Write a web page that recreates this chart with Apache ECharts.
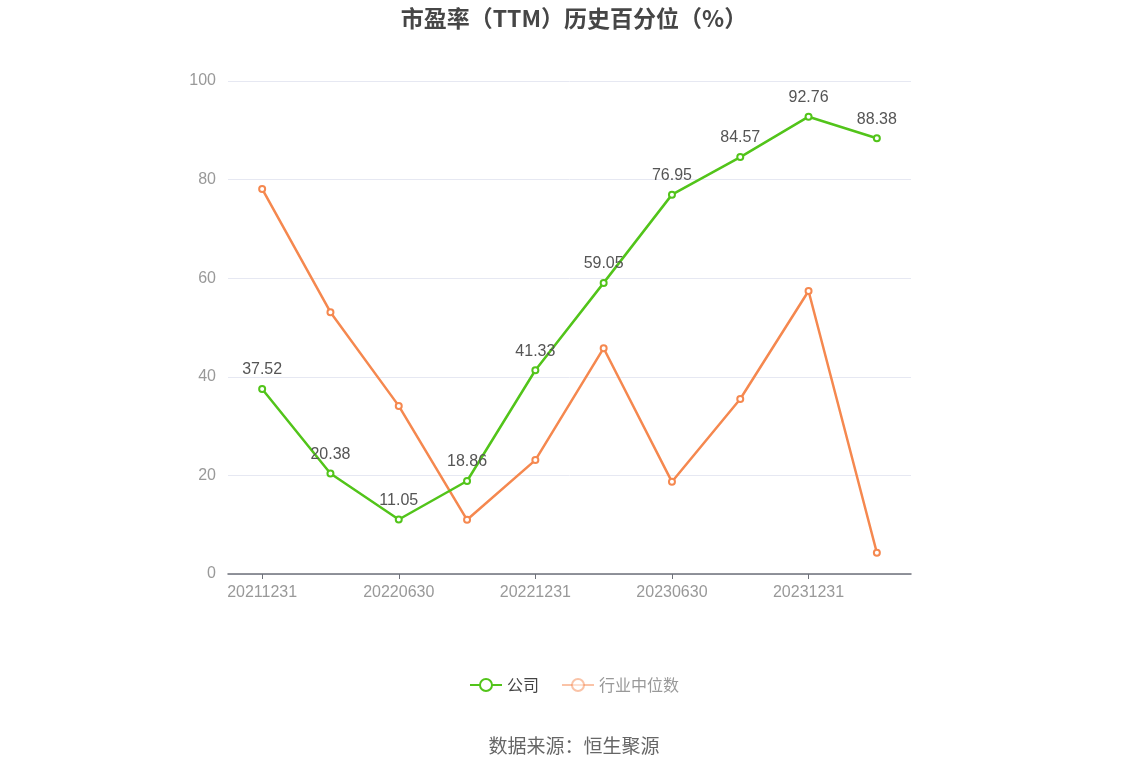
<!DOCTYPE html>
<html><head><meta charset="utf-8">
<script src="https://cdn.jsdelivr.net/npm/echarts@6/dist/echarts.min.js"></script>
<style>html,body{margin:0;padding:0;background:#fff}#c{width:1148px;height:776px}</style>
</head><body><div id="c"></div>
<script>
const categories = ['20211231','20220331','20220630','20220930','20221231','20230331','20230630','20230930','20231231','20240331'];
const companyValues = [37.52, 20.38, 11.05, 18.86, 41.33, 59.05, 76.95, 84.57, 92.76, 88.38];
const industryValues = [78.1, 53.1, 34.1, 11.0, 23.1, 45.8, 18.7, 35.5, 57.4, 4.3];
const yTicks = [0, 20, 40, 60, 80, 100];

const chart = echarts.init(document.getElementById('c'));
chart.setOption({
  animation: false,
  backgroundColor: '#fff',
  title: {
    text: '市盈率（TTM）历史百分位（%）',
    left: 'center', top: 2,
    textStyle: { fontSize: 23, fontWeight: 'bold', color: '#464646', fontFamily: 'Noto Sans CJK SC' }
  },
  graphic: [{
    type: 'text', left: 'center', top: 736,
    style: { text: '数据来源：恒生聚源', fontSize: 19, fill: '#666', fontFamily: 'Noto Sans CJK SC' }
  }],
  legend: {
    bottom: 78, left: 'center', itemWidth: 32, itemHeight: 15, itemGap: 22,
    textStyle: { fontSize: 16, fontFamily: 'Noto Sans CJK SC' },
    data: [
      { name: '公司', textStyle: { color: '#444' } },
      { name: '行业中位数', textStyle: { color: '#999' }, itemStyle: { opacity: 0.5 }, lineStyle: { opacity: 0.5 } }
    ]
  },
  grid: { left: 228, right: 237, top: 81, bottom: 202 },
  xAxis: {
    type: 'category', data: categories, boundaryGap: true,
    axisLine: { lineStyle: { color: '#6e7079', width: 1.5 } },
    axisTick: { show: true, alignWithLabel: true, interval: 1, length: 5, lineStyle: { color: '#6e7079', width: 1 } },
    axisLabel: { interval: 1, color: '#999', fontSize: 16, margin: 11 }
  },
  yAxis: {
    type: 'value', min: yTicks[0], max: yTicks[yTicks.length - 1], interval: 20,
    axisLine: { show: false }, axisTick: { show: false },
    axisLabel: { color: '#999', fontSize: 16, margin: 12 },
    splitLine: { lineStyle: { color: '#e6e8f2' } }
  },
  series: [
    {
      name: '公司', type: 'line', data: companyValues,
      symbol: 'emptyCircle', symbolSize: 6,
      itemStyle: { color: '#52c41a', borderWidth: 2 },
      lineStyle: { color: '#52c41a', width: 2.5 },
      label: { show: true, position: 'top', color: '#555', fontSize: 16, distance: 7 },
      z: 3
    },
    {
      name: '行业中位数', type: 'line', data: industryValues,
      symbol: 'emptyCircle', symbolSize: 6,
      itemStyle: { color: '#f5884f', borderWidth: 2 },
      lineStyle: { color: '#f5884f', width: 2.5 },
      label: { show: false },
      z: 2
    }
  ]
});
</script></body></html>
